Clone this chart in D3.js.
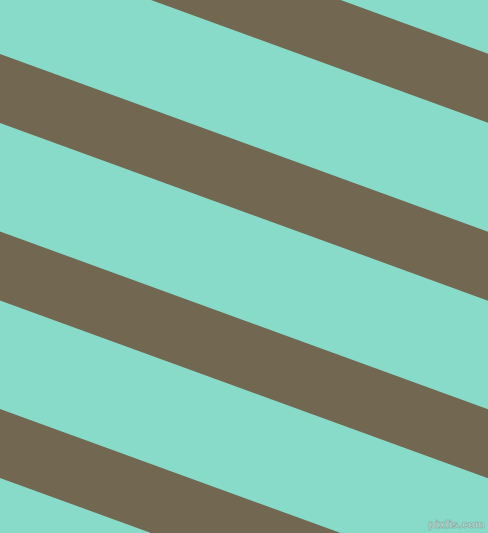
<!DOCTYPE html>
<html lang="en">
<head>
  <meta charset="UTF-8">
  <title>Diagonal stripes</title>
  <script src="https://d3js.org/d3.v7.min.js"></script>
  <style>
    html, body { margin: 0; padding: 0; background: #88dac9; overflow: hidden; }
    svg { display: block; }
  </style>
</head>
<body>
  <svg id="stripes"></svg>
  <script>
    // stripe upper edges, measured where they meet the left border (in px units of the 488x533 image)
    const stripeStarts = [-124, 54, 231.5, 409];
    const stripeThickness = [69, 69, 69, 69];
    const stripeSlope = 0.364; // ~20 degrees
    const colors = { background: "#88dac9", stripe: "#726750" };
    const watermark = "pixlis.com";

    const width = 488;
    const height = 533;

    const svg = d3.select("#stripes")
      .attr("width", width)
      .attr("height", height);

    // scales map image units to screen space
    const x = d3.scaleLinear().domain([0, 488]).range([0, width]);
    const y = d3.scaleLinear().domain([0, 533]).range([0, height]);

    svg.append("rect")
      .attr("width", width)
      .attr("height", height)
      .attr("fill", colors.background);

    const stripes = stripeStarts.map((s, i) => ({ top: s, thick: stripeThickness[i] }));

    // polygon from left border to right border
    const edgeY = (c, xv) => c + stripeSlope * xv;
    svg.selectAll(".stripe")
      .data(stripes)
      .enter()
      .append("polygon")
      .attr("class", "stripe")
      .attr("fill", colors.stripe)
      .attr("points", d => {
        const x0 = 0, x1 = 488;
        return [
          [x(x0), y(edgeY(d.top, x0))],
          [x(x1), y(edgeY(d.top, x1))],
          [x(x1), y(edgeY(d.top + d.thick, x1))],
          [x(x0), y(edgeY(d.top + d.thick, x0))]
        ].map(p => p.join(",")).join(" ");
      });

    // small site watermark, bottom right
    svg.append("text")
      .attr("x", width - 3)
      .attr("y", height - 5)
      .attr("text-anchor", "end")
      .attr("font-family", "DejaVu Sans, sans-serif")
      .attr("font-size", "10px")
      .attr("font-weight", "bold")
      .attr("fill", "#c3ddd6")
      .attr("stroke", "#7fa99f")
      .attr("stroke-width", 0.6)
      .text(watermark);
  </script>
</body>
</html>
